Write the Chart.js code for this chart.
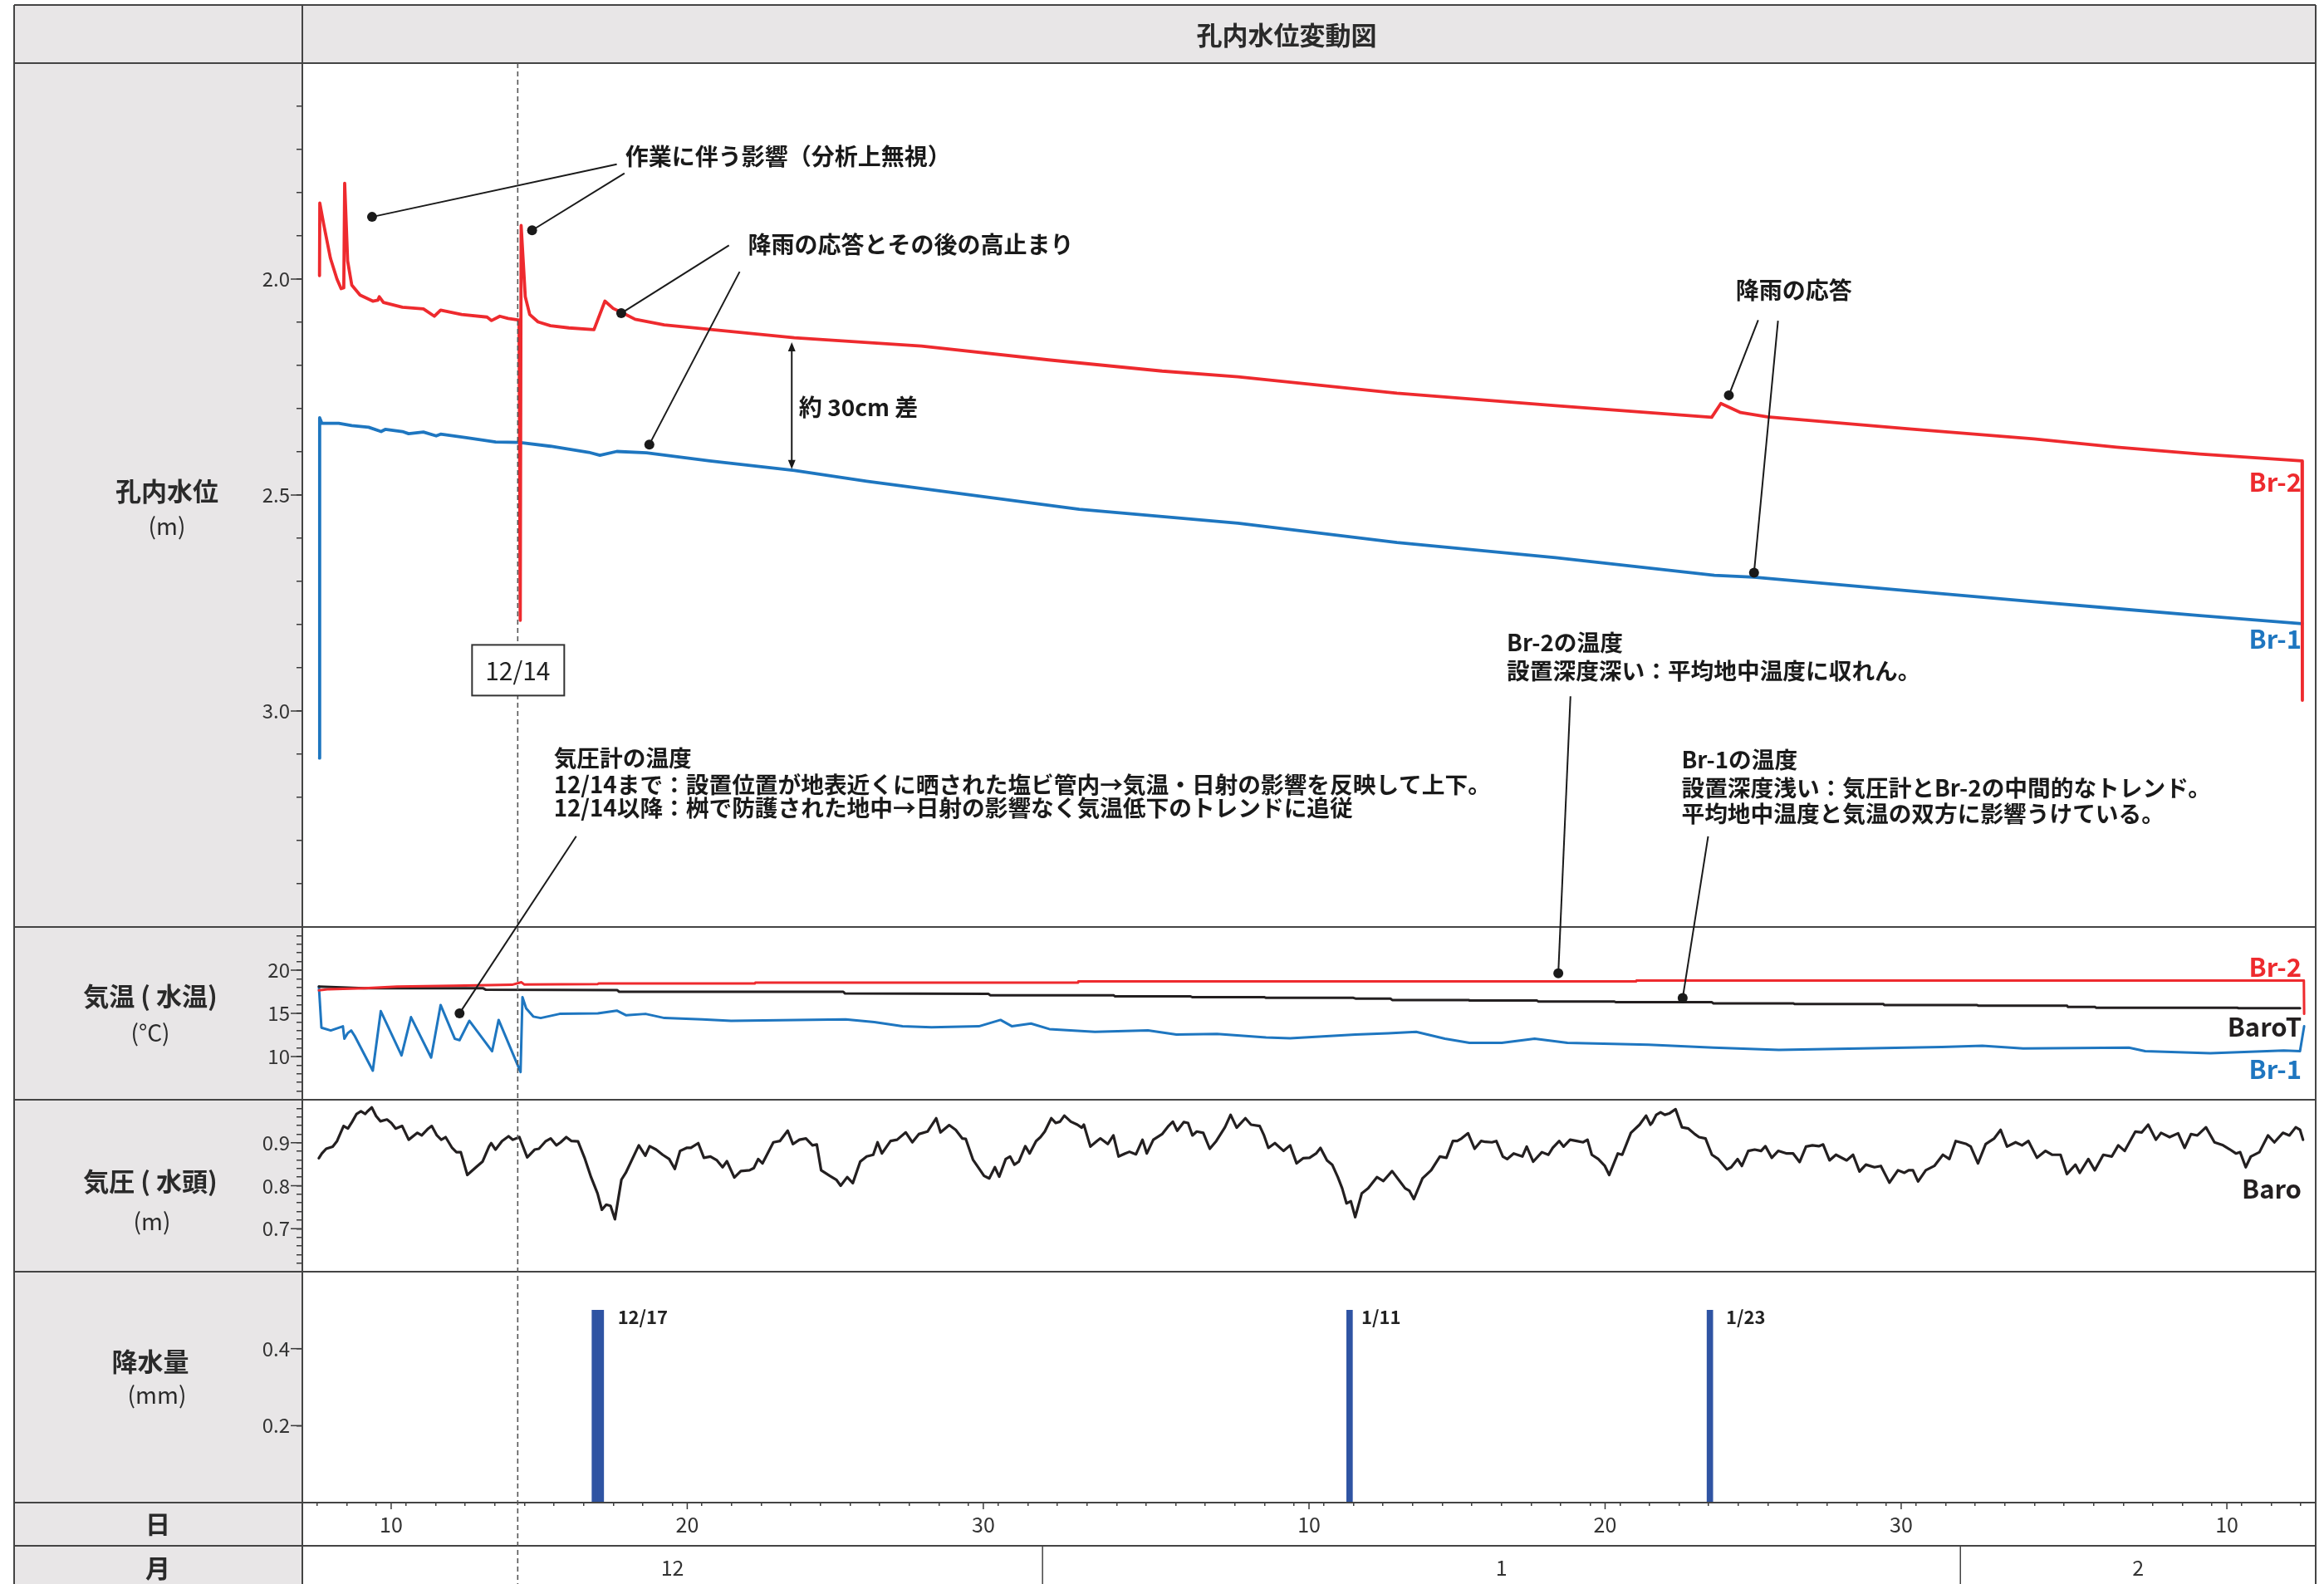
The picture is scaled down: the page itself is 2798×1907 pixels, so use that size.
<!DOCTYPE html>
<html><head><meta charset="utf-8">
<script src="https://cdn.jsdelivr.net/npm/chart.js@4.4.1/dist/chart.umd.min.js"></script>
<style>html,body{margin:0;padding:0;background:#fff;}canvas{display:block;}</style>
</head><body>
<canvas id="c" width="2798" height="1907"></canvas>
<script>
// time axis: days since 1 Dec 00:00 (Dec 7 = 6, Jan 1 = 31, Feb 1 = 62)
const monthNames = ['12', '1', '2'];
const monthStarts = [0, 31, 62, 90];
const dayTickLabels = [10, 20, 30];
const levelLabels = [2.0, 2.5, 3.0];
const tempLabels = [10, 15, 20];
const baroLabels = [0.7, 0.8, 0.9];
const rainTickLabels = [0.2, 0.4];

const br2Level = [[6.58,1.992],[6.59,1.824],[6.73,1.876],[6.95,1.952],[7.17,2.0],[7.31,2.022],[7.40,2.02],[7.43,1.778],[7.53,1.958],[7.67,2.014],[7.95,2.037],[8.38,2.051],[8.55,2.049],[8.60,2.041],[8.74,2.054],[9.38,2.065],[10.09,2.069],[10.46,2.086],[10.67,2.072],[11.38,2.082],[12.24,2.088],[12.39,2.096],[12.67,2.086],[12.95,2.091],[13.32,2.095],[13.36,2.79],[13.39,1.876],[13.53,2.041],[13.68,2.082],[13.96,2.099],[14.38,2.108],[15.0,2.113],[15.85,2.117],[16.22,2.051],[16.5,2.068],[16.78,2.077],[17.24,2.093],[18.22,2.106],[22.62,2.136],[26.91,2.155],[31.2,2.187],[35.04,2.213],[37.6,2.226],[42.97,2.264],[48.33,2.293],[53.6,2.320],[53.91,2.288],[54.58,2.309],[55.48,2.319],[60.28,2.347],[64.48,2.370],[67.28,2.389],[70.09,2.405],[73.54,2.421],[73.55,2.975]];

const br1Level = [[6.58,3.109],[6.585,2.321],[6.66,2.334],[7.23,2.334],[7.67,2.339],[8.24,2.343],[8.66,2.353],[8.8,2.348],[9.38,2.353],[9.59,2.358],[10.09,2.354],[10.52,2.363],[10.67,2.359],[11.53,2.367],[12.53,2.377],[13.32,2.378],[14.38,2.387],[15.67,2.401],[16.05,2.408],[16.62,2.399],[17.62,2.402],[19.76,2.421],[22.62,2.443],[25.06,2.468],[30.8,2.52],[32.24,2.533],[37.6,2.565],[42.97,2.61],[48.33,2.645],[53.69,2.686],[55.03,2.690],[60.28,2.722],[64.48,2.747],[67.28,2.763],[70.09,2.779],[73.54,2.798]];

const br2Temp = [[6.56,17.66],[6.9,17.8],[8.1,17.92],[9.2,18.09],[11.1,18.2],[13.08,18.31],[13.4,18.6],[13.5,18.33],[15.98,18.4],[16.0,18.45],[21.28,18.45],[21.3,18.55],[32.2,18.55],[32.21,18.69],[51.05,18.69],[51.06,18.79],[73.6,18.79],[73.61,14.94]];

const baroTemp = [[6.56,18.09],[8.09,17.9],[12.11,17.9],[12.2,17.73],[16.63,17.7],[16.7,17.5],[24.27,17.5],[24.33,17.3],[29.17,17.25],[29.24,17.09],[33.4,17.09],[33.45,16.96],[36.0,16.96],[36.07,16.87],[38.5,16.87],[38.55,16.8],[41.5,16.8],[41.57,16.71],[42.75,16.71],[42.81,16.55],[45.4,16.55],[45.42,16.48],[47.7,16.48],[47.74,16.38],[50.3,16.38],[50.37,16.29],[53.6,16.29],[53.66,16.16],[56.35,16.16],[56.41,16.07],[59.4,16.07],[59.43,15.97],[62.55,15.97],[62.6,15.9],[65.6,15.9],[65.63,15.74],[66.55,15.74],[66.58,15.65],[71.35,15.65],[71.4,15.59],[73.47,15.59]];

const br1Temp = [[6.56,18.1],[6.645,13.34],[6.96,13.02],[7.37,13.5],[7.42,12.06],[7.53,12.7],[7.65,13.02],[7.77,12.38],[8.38,8.37],[8.65,15.26],[9.35,10.13],[9.67,14.56],[10.35,9.88],[10.67,15.97],[11.15,12.06],[11.31,11.9],[11.64,14.14],[12.41,10.62],[12.63,14.24],[13.37,8.21],[13.435,16.87],[13.56,15.58],[13.8,14.63],[14.05,14.46],[14.69,14.94],[15.98,15.0],[16.62,15.32],[16.94,14.78],[17.59,14.94],[18.23,14.46],[19.51,14.3],[20.48,14.14],[24.35,14.3],[25.32,13.98],[26.27,13.5],[27.25,13.4],[28.85,13.5],[29.58,14.24],[29.97,13.5],[30.61,13.82],[31.23,13.18],[32.77,12.86],[34.56,13.02],[35.52,12.54],[36.89,12.63],[38.55,12.22],[39.36,12.12],[41.57,12.54],[42.67,12.7],[43.62,12.86],[44.59,12.06],[45.42,11.58],[46.51,11.58],[47.62,12.06],[48.73,11.58],[51.47,11.36],[53.66,11.03],[55.87,10.78],[58.62,10.93],[61.37,11.1],[62.74,11.26],[64.12,10.93],[67.69,11.03],[68.24,10.62],[70.44,10.39],[72.92,10.7],[73.47,10.62],[73.61,13.5]];

const baroHead = [[6.557,0.864],[6.66,0.875],[6.806,0.886],[7.026,0.891],[7.173,0.904],[7.393,0.939],[7.54,0.933],[7.686,0.949],[7.833,0.967],[7.979,0.973],[8.126,0.967],[8.2,0.973],[8.346,0.982],[8.493,0.962],[8.639,0.950],[8.859,0.954],[9.006,0.946],[9.152,0.933],[9.372,0.939],[9.592,0.907],[9.886,0.923],[10.032,0.917],[10.252,0.933],[10.37,0.939],[10.545,0.917],[10.692,0.907],[10.839,0.913],[11.059,0.888],[11.205,0.878],[11.352,0.878],[11.572,0.825],[11.865,0.843],[12.085,0.856],[12.305,0.891],[12.378,0.899],[12.525,0.884],[12.745,0.904],[12.965,0.915],[13.111,0.907],[13.331,0.913],[13.595,0.866],[13.845,0.884],[13.991,0.886],[14.211,0.903],[14.387,0.910],[14.578,0.894],[14.724,0.901],[14.915,0.913],[15.091,0.904],[15.311,0.903],[15.531,0.865],[15.751,0.820],[15.971,0.782],[16.117,0.744],[16.264,0.756],[16.41,0.753],[16.557,0.722],[16.777,0.814],[16.924,0.830],[17.144,0.862],[17.364,0.894],[17.584,0.870],[17.73,0.892],[17.95,0.884],[18.17,0.872],[18.39,0.862],[18.58,0.839],[18.757,0.881],[18.977,0.888],[19.123,0.888],[19.372,0.899],[19.563,0.865],[19.783,0.868],[20.003,0.859],[20.194,0.843],[20.34,0.857],[20.59,0.819],[20.81,0.834],[21.103,0.836],[21.249,0.841],[21.396,0.862],[21.543,0.852],[21.909,0.901],[22.129,0.904],[22.393,0.928],[22.569,0.897],[22.789,0.907],[23.009,0.910],[23.229,0.894],[23.375,0.896],[23.522,0.836],[23.815,0.823],[24.035,0.814],[24.182,0.800],[24.402,0.820],[24.592,0.806],[24.842,0.856],[25.062,0.868],[25.282,0.872],[25.428,0.901],[25.575,0.875],[25.868,0.904],[26.088,0.907],[26.381,0.924],[26.601,0.901],[26.821,0.920],[27.114,0.926],[27.408,0.957],[27.554,0.924],[27.848,0.941],[28.067,0.930],[28.287,0.910],[28.405,0.909],[28.654,0.860],[28.877,0.838],[29.024,0.823],[29.2,0.817],[29.39,0.843],[29.537,0.821],[29.757,0.862],[29.903,0.868],[30.05,0.849],[30.197,0.856],[30.417,0.892],[30.563,0.875],[30.783,0.904],[30.93,0.913],[31.076,0.926],[31.296,0.957],[31.443,0.946],[31.59,0.949],[31.736,0.963],[31.956,0.949],[32.176,0.942],[32.323,0.935],[32.396,0.942],[32.616,0.891],[32.836,0.904],[32.953,0.910],[33.203,0.897],[33.393,0.917],[33.569,0.868],[33.789,0.875],[33.936,0.879],[34.156,0.873],[34.376,0.907],[34.522,0.875],[34.742,0.907],[35.036,0.920],[35.255,0.939],[35.402,0.949],[35.549,0.928],[35.769,0.948],[35.915,0.946],[36.062,0.917],[36.209,0.926],[36.428,0.923],[36.648,0.886],[36.868,0.904],[37.161,0.936],[37.352,0.965],[37.557,0.935],[37.851,0.957],[38.041,0.942],[38.334,0.939],[38.481,0.917],[38.628,0.888],[38.848,0.899],[39.141,0.881],[39.361,0.894],[39.581,0.852],[39.8,0.864],[40.02,0.865],[40.24,0.875],[40.387,0.888],[40.607,0.859],[40.783,0.849],[40.973,0.820],[41.12,0.794],[41.267,0.759],[41.413,0.764],[41.56,0.727],[41.78,0.782],[42.0,0.794],[42.293,0.820],[42.513,0.811],[42.806,0.834],[43.026,0.814],[43.246,0.794],[43.393,0.788],[43.54,0.769],[43.833,0.817],[44.126,0.836],[44.42,0.868],[44.64,0.865],[44.86,0.904],[45.006,0.904],[45.153,0.910],[45.373,0.922],[45.592,0.886],[45.812,0.904],[45.959,0.902],[46.179,0.901],[46.326,0.904],[46.546,0.868],[46.692,0.862],[46.912,0.875],[47.206,0.868],[47.352,0.891],[47.572,0.856],[47.866,0.878],[48.085,0.872],[48.232,0.888],[48.452,0.904],[48.599,0.891],[48.818,0.907],[49.038,0.904],[49.258,0.901],[49.405,0.907],[49.551,0.872],[49.771,0.862],[49.991,0.846],[50.138,0.825],[50.431,0.875],[50.578,0.872],[50.871,0.923],[51.164,0.942],[51.384,0.963],[51.531,0.942],[51.585,0.946],[51.73,0.965],[51.874,0.971],[52.018,0.965],[52.163,0.968],[52.38,0.978],[52.596,0.936],[52.813,0.933],[53.03,0.920],[53.174,0.913],[53.391,0.910],[53.608,0.872],[53.824,0.862],[54.113,0.838],[54.258,0.843],[54.474,0.862],[54.619,0.846],[54.836,0.881],[55.052,0.884],[55.269,0.881],[55.413,0.892],[55.63,0.865],[55.847,0.881],[56.136,0.875],[56.352,0.875],[56.569,0.855],[56.786,0.891],[57.003,0.894],[57.219,0.892],[57.364,0.896],[57.58,0.859],[57.797,0.872],[58.158,0.859],[58.375,0.872],[58.592,0.833],[58.808,0.849],[59.097,0.843],[59.314,0.846],[59.603,0.807],[59.892,0.836],[60.109,0.830],[60.253,0.836],[60.398,0.836],[60.571,0.810],[60.831,0.836],[61.12,0.846],[61.409,0.872],[61.626,0.862],[61.842,0.904],[62.204,0.897],[62.348,0.891],[62.594,0.852],[62.854,0.897],[63.143,0.910],[63.359,0.930],[63.576,0.891],[63.865,0.901],[64.081,0.894],[64.298,0.904],[64.587,0.865],[64.876,0.881],[65.093,0.872],[65.382,0.872],[65.598,0.827],[65.887,0.849],[66.032,0.830],[66.321,0.862],[66.538,0.836],[66.826,0.872],[67.115,0.868],[67.332,0.894],[67.549,0.881],[67.91,0.926],[68.127,0.924],[68.343,0.942],[68.603,0.907],[68.777,0.923],[69.066,0.913],[69.354,0.922],[69.571,0.888],[69.788,0.920],[70.004,0.917],[70.293,0.936],[70.582,0.901],[70.871,0.894],[71.088,0.885],[71.304,0.875],[71.449,0.878],[71.637,0.843],[71.81,0.868],[72.099,0.878],[72.388,0.917],[72.604,0.901],[72.893,0.923],[73.11,0.917],[73.326,0.936],[73.471,0.930],[73.572,0.907]];

const rainTimes = [15.88, 16.0, 16.08, 41.37, 53.54];
const rainValues = [0.5, 0.5, 0.5, 0.5, 0.5];
const rainEventNames = ['12/17', '1/11', '1/23'];
const markerDate = 13.275; // 12/14

const RED = '#ee2a2e', BLUE = '#1e76c0', BLACK = '#231f20', BARC = '#2f54a3', GRAY = '#e8e6e7', LINEC = '#3a3a3a';
const JP = "'Noto Sans CJK JP','Noto Sans',sans-serif";
const FRAME = {left: 17, top: 6};

const pts = a => a.map(p => ({x: p[0], y: p[1]}));
function dayOfMonth(t) {
  for (let i = 0; i < monthStarts.length - 1; i++) if (t >= monthStarts[i] && t < monthStarts[i + 1]) return Math.round(t - monthStarts[i] + 1);
  return null;
}
const near = (arr, v) => arr.some(a => Math.abs(a - v) < 1e-6);

function yAxis(weight, stackWeight, min, max, step, labels, fmt, reverse) {
  return {
    type: 'linear', position: 'left', stack: 'panels', stackWeight, weight, min, max, reverse: !!reverse,
    afterBuildTicks(s) { const t = []; const n = Math.round((max - min) / step); for (let i = 0; i <= n; i++) t.push({value: +(min + i * step).toFixed(4)}); s.ticks = t; },
    afterFit(s) { s.width = 60; },
    grid: {drawOnChartArea: false, drawTicks: true, tickLength: 7, color: LINEC, lineWidth: 1.5},
    border: {display: false},
    ticks: {autoSkip: false, padding: 8, color: '#333', font: {family: JP, size: 24},
      callback: v => near(labels, v) ? fmt(v) : ''}
  };
}

// annotations (positions in data units of the given axis)
const texts = [
  {axis: 'yWL', t: 16.905, lines: [[1.717, '作業に伴う影響（分析上無視）']], size: 28},
  {axis: 'yWL', t: 21.05, lines: [[1.919, '降雨の応答とその後の高止まり']], size: 28},
  {axis: 'yWL', t: 22.77, lines: [[2.296, '約 30cm 差']], size: 28},
  {axis: 'yWL', t: 54.41, lines: [[2.0255, '降雨の応答']], size: 28},
  {axis: 'yWL', t: 14.49, lines: [[3.109, '気圧計の温度'], [3.170, '12/14まで：設置位置が地表近くに晒された塩ビ管内→気温・日射の影響を反映して上下。'], [3.224, '12/14以降：桝で防護された地中→日射の影響なく気温低下のトレンドに追従']], size: 27.7},
  {axis: 'yWL', t: 46.68, lines: [[2.8422, 'Br-2の温度'], [2.9075, '設置深度深い：平均地中温度に収れん。']], size: 27.7},
  {axis: 'yWL', t: 52.58, lines: [[3.113, 'Br-1の温度'], [3.177, '設置深度浅い：気圧計とBr-2の中間的なトレンド。'], [3.237, '平均地中温度と気温の双方に影響うけている。']], size: 27.7}
];
const leaders = [
  [['yWL', 16.62, 1.734], ['yWL', 8.355, 1.856]],
  [['yWL', 16.88, 1.755], ['yWL', 13.76, 1.887]],
  [['yWL', 20.41, 1.922], ['yWL', 16.77, 2.079]],
  [['yWL', 20.77, 1.983], ['yWL', 17.72, 2.383]],
  [['yWL', 55.17, 2.095], ['yWL', 54.18, 2.269]],
  [['yWL', 55.84, 2.0965], ['yWL', 55.03, 2.680]],
  [['yWL', 15.25, 3.290], ['yT', 11.31, 15.01]],
  [['yWL', 48.83, 2.966], ['yT', 48.42, 19.65]],
  [['yWL', 53.48, 3.290], ['yT', 52.62, 16.77]]
];
const gapArrow = {axis: 'yWL', t: 22.53, from: 2.146, to: 2.44};
const seriesLabels = [
  {axis: 'yWL', v: 2.469, text: 'Br-2', color: RED},
  {axis: 'yWL', v: 2.833, text: 'Br-1', color: BLUE},
  {axis: 'yT', v: 20.33, text: 'Br-2', color: RED},
  {axis: 'yT', v: 13.48, text: 'BaroT', color: BLACK},
  {axis: 'yT', v: 8.54, text: 'Br-1', color: BLUE},
  {axis: 'yP', v: 0.7925, text: 'Baro', color: BLACK}
];
const rainLabelPos = [{t: 16.65, v: 0.483}, {t: 41.77, v: 0.483}, {t: 54.08, v: 0.483}];
const headers = [
  {text: '孔内水位', x: 201, y: 591, font: 'bold 31px ' + JP},
  {text: '(m)', x: 201, y: 633, font: '28px ' + JP},
  {text: '気温 ( 水温)', x: 181, y: 1199, font: 'bold 31px ' + JP},
  {text: '(°C)', x: 181, y: 1243, font: '28px ' + JP},
  {text: '気圧 ( 水頭)', x: 181, y: 1422, font: 'bold 31px ' + JP},
  {text: '(m)', x: 183, y: 1470, font: '28px ' + JP},
  {text: '降水量', x: 181, y: 1639, font: 'bold 31px ' + JP},
  {text: '(mm)', x: 189, y: 1679, font: '28px ' + JP},
  {text: '日', x: 190, y: 1835, font: 'bold 30px ' + JP},
  {text: '月', x: 190, y: 1888, font: 'bold 30px ' + JP}
];

const tableFrame = {
  id: 'tableFrame',
  beforeDraw(chart) {
    const {ctx, chartArea: ca, width, height} = chart;
    ctx.save();
    ctx.fillStyle = '#fff'; ctx.fillRect(0, 0, width, height);
    ctx.fillStyle = GRAY;
    ctx.fillRect(FRAME.left, FRAME.top, ca.left - FRAME.left, height - FRAME.top);
    ctx.fillRect(FRAME.left, FRAME.top, ca.right - FRAME.left, ca.top - FRAME.top);
    ctx.restore();
  },
  afterDraw(chart) {
    const {ctx, chartArea: ca, height, scales} = chart;
    const X = scales.x;
    const P = (a, t, v) => [X.getPixelForValue(t), scales[a].getPixelForValue(v)];
    const line = (x1, y1, x2, y2) => { ctx.beginPath(); ctx.moveTo(x1, y1); ctx.lineTo(x2, y2); ctx.stroke(); };
    ctx.save();
    // major ticks (longer)
    ctx.strokeStyle = LINEC; ctx.lineWidth = 1.5;
    [['yWL', levelLabels], ['yT', tempLabels], ['yP', baroLabels], ['yR', rainTickLabels]].forEach(([a, vals]) => {
      vals.forEach(v => { const y = scales[a].getPixelForValue(v); line(ca.left - 14, y, ca.left, y); });
    });
    X.ticks.forEach(tk => { const d = dayOfMonth(tk.value); if (dayTickLabels.includes(d)) { const x = X.getPixelForValue(tk.value); line(x, ca.bottom, x, ca.bottom + 8); } });
    // frame lines
    ctx.strokeStyle = '#444'; ctx.lineWidth = 2;
    const monthTop = X.bottom;
    [FRAME.top, ca.top, scales.yWL.bottom, scales.yT.bottom, scales.yP.bottom, ca.bottom, monthTop].forEach(y => line(FRAME.left, y, ca.right, y));
    line(FRAME.left, FRAME.top, FRAME.left, height);
    line(ca.left, FRAME.top, ca.left, height);
    line(ca.right, FRAME.top, ca.right, height);
    // month row
    ctx.lineWidth = 1.5;
    ctx.fillStyle = '#333'; ctx.font = '25px ' + JP; ctx.textAlign = 'center'; ctx.textBaseline = 'middle';
    for (let i = 0; i < monthNames.length; i++) {
      const a = Math.max(monthStarts[i], X.min), b = Math.min(monthStarts[i + 1], X.max);
      const xa = X.getPixelForValue(a), xb = X.getPixelForValue(b);
      if (monthStarts[i] > X.min) line(xa, monthTop, xa, height);
      ctx.fillText(monthNames[i], (xa + xb) / 2, (monthTop + height) / 2 + 3);
    }
    // dashed marker line
    const mx = X.getPixelForValue(markerDate);
    ctx.strokeStyle = '#555'; ctx.lineWidth = 1.6; ctx.setLineDash([6, 4]);
    line(mx, ca.top, mx, height);
    ctx.setLineDash([]);
    // 12/14 box
    const by = scales.yWL.getPixelForValue(2.9046);
    ctx.fillStyle = '#fff'; ctx.fillRect(mx - 55, by - 30, 111, 61);
    ctx.strokeStyle = '#333'; ctx.lineWidth = 2; ctx.strokeRect(mx - 55, by - 30, 111, 61);
    ctx.fillStyle = '#222'; ctx.font = '30px ' + JP; ctx.fillText('12/14', mx, by + 1);
    // leaders + dots
    ctx.strokeStyle = '#1a1a1a'; ctx.fillStyle = '#1a1a1a'; ctx.lineWidth = 2;
    leaders.forEach(([f, t]) => {
      const [x1, y1] = P(f[0], f[1], f[2]); const [x2, y2] = P(t[0], t[1], t[2]);
      line(x1, y1, x2, y2);
      ctx.beginPath(); ctx.arc(x2, y2, 6, 0, Math.PI * 2); ctx.fill();
    });
    // double arrow
    const [ax, ay1] = P(gapArrow.axis, gapArrow.t, gapArrow.from); const ay2 = scales[gapArrow.axis].getPixelForValue(gapArrow.to);
    line(ax, ay1 + 6, ax, ay2 - 6);
    ctx.beginPath(); ctx.moveTo(ax, ay1); ctx.lineTo(ax - 4.5, ay1 + 11); ctx.lineTo(ax + 4.5, ay1 + 11); ctx.closePath(); ctx.fill();
    ctx.beginPath(); ctx.moveTo(ax, ay2); ctx.lineTo(ax - 4.5, ay2 - 11); ctx.lineTo(ax + 4.5, ay2 - 11); ctx.closePath(); ctx.fill();
    // annotation texts
    ctx.textAlign = 'left'; ctx.textBaseline = 'middle'; ctx.fillStyle = '#1a1a1a';
    texts.forEach(tx => {
      ctx.font = 'bold ' + tx.size + 'px ' + JP;
      tx.lines.forEach(([v, s]) => { const [x, y] = P(tx.axis, tx.t, v); ctx.fillText(s, x, y); });
    });
    // rain event labels
    ctx.font = 'bold 22px ' + JP; ctx.fillStyle = '#222';
    rainLabelPos.forEach((p, i) => { const [x, y] = P('yR', p.t, p.v); ctx.fillText(rainEventNames[i], x, y); });
    // series labels
    ctx.textAlign = 'right'; ctx.font = 'bold 31px ' + JP;
    seriesLabels.forEach(l => { ctx.fillStyle = l.color; ctx.fillText(l.text, ca.right - 17, scales[l.axis].getPixelForValue(l.v)); });
    // headers
    ctx.textAlign = 'center'; ctx.fillStyle = '#2a2a2a';
    headers.forEach(h => { ctx.font = h.font; ctx.fillText(h.text, h.x, h.y); });
    ctx.font = 'bold 31px ' + JP; ctx.fillText('孔内水位変動図', 1549, (FRAME.top + ca.top) / 2 + 1);
    ctx.restore();
  }
};

function build() {
  const lineDs = (label, data, axis, color, w) => ({type: 'line', label, data: pts(data), yAxisID: axis, borderColor: color, borderWidth: w, pointRadius: 0, tension: 0, fill: false, borderJoinStyle: 'round', borderCapStyle: 'round'});
  new Chart(document.getElementById('c'), {
    type: 'line',
    data: {datasets: [
      lineDs('Br-2', br2Level, 'yWL', RED, 3.8),
      lineDs('Br-1', br1Level, 'yWL', BLUE, 3.8),
      lineDs('Br-2 温度', br2Temp, 'yT', RED, 3),
      lineDs('BaroT', baroTemp, 'yT', BLACK, 3),
      lineDs('Br-1 温度', br1Temp, 'yT', BLUE, 3),
      lineDs('Baro', baroHead, 'yP', BLACK, 3.2),
      {type: 'bar', label: '降水量', data: rainTimes.map((t, i) => ({x: t, y: rainValues[i]})), yAxisID: 'yR', backgroundColor: BARC, barThickness: 7}
    ]},
    options: {
      responsive: false, devicePixelRatio: 1, animation: false, events: [],
      layout: {padding: {left: 304, top: 76, right: 10, bottom: 46}},
      plugins: {legend: {display: false}, tooltip: {enabled: false}},
      scales: {
        x: {type: 'linear', position: 'bottom', min: 6, max: 74, offset: false,
          afterBuildTicks(s) { const t = []; for (let d = 6; d <= 74; d++) t.push({value: d}); s.ticks = t; },
          afterFit(s) { s.height = 52; },
          grid: {drawOnChartArea: false, tickLength: 4, color: LINEC, lineWidth: 1.5},
          border: {display: false},
          ticks: {autoSkip: false, maxRotation: 0, minRotation: 0, padding: 7, color: '#333', font: {family: JP, size: 25},
            callback: v => { const d = dayOfMonth(v); return dayTickLabels.includes(d) ? String(d) : ''; }}
        },
        yWL: yAxis(4, 1040, 1.5, 3.5, 0.1, levelLabels, v => v.toFixed(1), true),
        yT: yAxis(3, 208, 5, 25, 1, tempLabels, v => String(Math.round(v))),
        yP: yAxis(2, 207, 0.6, 1.0, 0.02, baroLabels, v => v.toFixed(1)),
        yR: yAxis(1, 278, 0, 0.6, 0.2, rainTickLabels, v => v.toFixed(1))
      }
    },
    plugins: [tableFrame]
  });
}
Promise.all([document.fonts.load('bold 28px "Noto Sans CJK JP"'), document.fonts.load('24px "Noto Sans CJK JP"')]).then(build, build);
</script>
</body></html>
